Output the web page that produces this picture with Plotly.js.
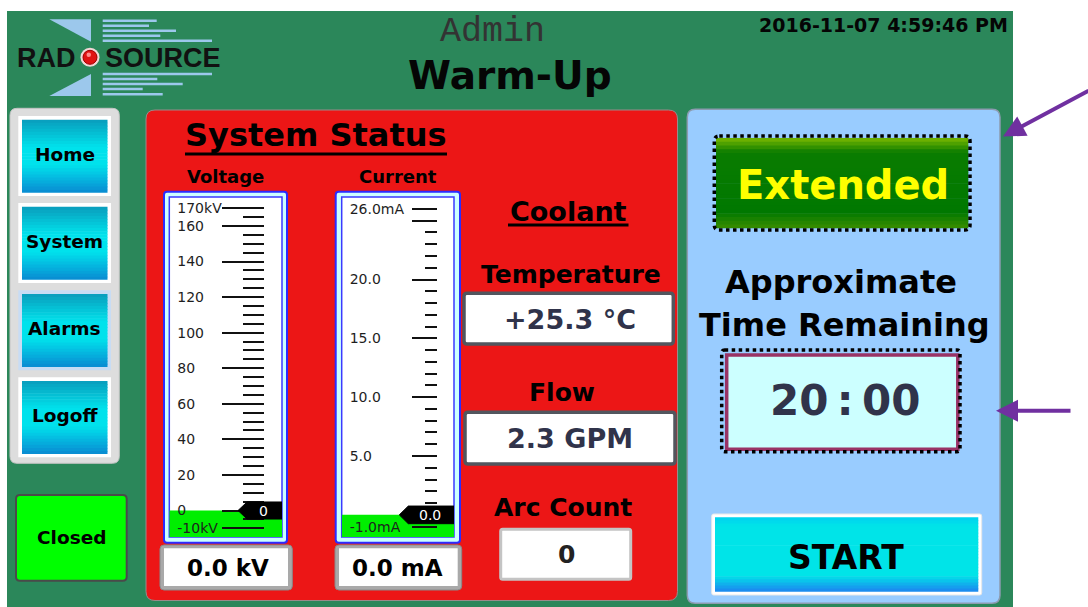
<!DOCTYPE html>
<html><head><meta charset="utf-8">
<script src="https://cdn.plot.ly/plotly-3.0.1.min.js"></script>
<style>html,body{margin:0;padding:0;background:#fff;}#chart{width:1088px;height:607px;}</style>
</head><body><div id="chart"></div>
<script>
// ---------------- data ----------------
const userLevel = 'Admin';
const screenTitle = 'Warm-Up';
const timestamp = '2016-11-07 4:59:46 PM';
const navButtons = ['Home', 'System', 'Alarms', 'Logoff'];
const doorState = 'Closed';
const panelTitle = 'System Status';
const voltageKV = 0.0;
const currentMA = 0.0;
const voltageRange = [-14.9, 176.3];
const voltageMajorTicks = [-10, 0, 20, 40, 60, 80, 100, 120, 140, 160, 170];
const voltageMinorTicks = [-5, 5, 10, 15, 25, 30, 35, 45, 50, 55, 65, 70, 75, 85, 90, 95, 105, 110, 115, 125, 130, 135, 145, 150, 155, 165];
const voltageLabelVals = [-10, 0, 20, 40, 60, 80, 100, 120, 140, 160, 170];
const voltageLabels = ['-10kV', '0', '20', '40', '60', '80', '100', '120', '140', '160', '170kV'];
const currentRange = [-1.88, 27.01];
const currentMajorTicks = [-1, 0, 5, 10, 15, 20, 25, 26];
const currentMinorTicks = [1, 2, 3, 4, 6, 7, 8, 9, 11, 12, 13, 14, 16, 17, 18, 19, 21, 22, 23, 24];
const currentLabelVals = [-1, 5, 10, 15, 20, 26];
const currentLabels = ['-1.0mA', '5.0', '10.0', '15.0', '20.0', '26.0mA'];
const coolantTempC = 25.3;
const coolantFlowGPM = 2.3;
const arcCount = 0;
const warmupMode = 'Extended';
const timeRemaining = '20\u2009:\u200900';

// ---------------- helpers ----------------
const W = 1088, H = 607;
const shapes = [], ann = [];
function rrPath(x0, y0, x1, y1, r) {
  return `M${x0 + r},${y0} L${x1 - r},${y0} Q${x1},${y0} ${x1},${y0 + r} L${x1},${y1 - r} Q${x1},${y1} ${x1 - r},${y1} L${x0 + r},${y1} Q${x0},${y1} ${x0},${y1 - r} L${x0},${y0 + r} Q${x0},${y0} ${x0 + r},${y0} Z`;
}
function box(x0, y0, x1, y1, fill, lc, lw, r, dash) {
  const s = {xref: 'x', yref: 'y', fillcolor: fill || 'rgba(0,0,0,0)', line: {color: lc || 'rgba(0,0,0,0)', width: lw || 0}, layer: 'below'};
  if (dash) s.line.dash = dash;
  if (r) { s.type = 'path'; s.path = rrPath(x0, y0, x1, y1, r); }
  else { s.type = 'rect'; s.x0 = x0; s.x1 = x1; s.y0 = y0; s.y1 = y1; }
  shapes.push(s);
}
function line(x0, y0, x1, y1, c, w) {
  shapes.push({type: 'line', xref: 'x', yref: 'y', x0, y0, x1, y1, line: {color: c, width: w}, layer: 'below'});
}
function hex2rgb(h) { return [parseInt(h.substr(1, 2), 16), parseInt(h.substr(3, 2), 16), parseInt(h.substr(5, 2), 16)]; }
function colAt(stops, t) {
  for (let i = 0; i < stops.length - 1; i++) {
    const a = stops[i], b = stops[i + 1];
    if (t >= a[0] && t <= b[0]) {
      const f = (t - a[0]) / (b[0] - a[0] || 1);
      const ca = hex2rgb(a[1]), cb = hex2rgb(b[1]);
      return `rgb(${ca.map((v, k) => Math.round(v + (cb[k] - v) * f)).join(',')})`;
    }
  }
  return stops[stops.length - 1][1];
}
function grad(x0, y0, x1, y1, stops, n) {
  const h = (y1 - y0) / n;
  for (let i = 0; i < n; i++) {
    const t = (i + 0.5) / n;
    shapes.push({type: 'rect', xref: 'x', yref: 'y', x0, x1, y0: y0 + i * h, y1: Math.min(y1, y0 + (i + 1) * h + 0.6),
      fillcolor: colAt(stops, t), line: {width: 0}, layer: 'below'});
  }
}
function txt(x, y, text, size, o) {
  o = o || {};
  ann.push({xref: 'x', yref: 'y', x, y, text, showarrow: false, xanchor: o.xa || 'center', yanchor: 'middle',
    font: {family: o.family || 'DejaVu Sans', size, color: o.color || '#000', weight: o.weight || 'bold'}});
}

// ---------------- background ----------------
box(7, 11, 1013, 607, '#2b875a');

// logo
const lb = '#9cc8ec';
shapes.push({type: 'path', xref: 'x', yref: 'y', path: 'M49.3,19.3 L91,19.3 L91,41.7 Z', fillcolor: lb, line: {width: 0}, layer: 'below'});
shapes.push({type: 'path', xref: 'x', yref: 'y', path: 'M91,74 L91,96 L49.3,96 Z', fillcolor: lb, line: {width: 0}, layer: 'below'});
[[20.7, 156.7], [25.7, 149], [30.7, 176], [35.7, 160.3], [40.7, 212]].forEach(p => line(102.7, p[0], p[1], p[0], lb, 2.5));
[[74, 212], [79, 157.3], [84, 182.7], [89, 142.7], [94.3, 162.7]].forEach(p => line(102.7, p[0], p[1], p[0], lb, 2.5));
shapes.push({type: 'circle', xref: 'x', yref: 'y', x0: 80.5, x1: 99.5, y0: 47.8, y1: 66.8, fillcolor: '#f3d6d6', line: {width: 0}, layer: 'below'});
shapes.push({type: 'circle', xref: 'x', yref: 'y', x0: 83, x1: 97, y0: 50.3, y1: 64.3, fillcolor: '#e01212', line: {color: '#a00000', width: 1}, layer: 'below'});
shapes.push({type: 'circle', xref: 'x', yref: 'y', x0: 86.5, x1: 91, y0: 52.5, y1: 57, fillcolor: '#ff8a8a', line: {width: 0}, layer: 'below'});
txt(15, 57.5, 'RAD', 27, {xa: 'left', family: 'Liberation Sans', color: '#111'});
txt(103, 57.5, 'SOURCE', 27, {xa: 'left', family: 'Liberation Sans', color: '#111'});

// header texts
txt(492, 31.5, userLevel, 35, {family: 'Liberation Mono', weight: 'normal', color: '#333'});
txt(510, 75, screenTitle, 39, {color: '#050505'});
txt(1010, 24.5, timestamp, 19, {xa: 'right', color: '#050505'});

// nav panel
box(10, 108.3, 119.3, 463.3, '#dddddd', '#c4c4c4', 1, 7);
const btnStops = [[0, '#0a9cbc'], [0.38, '#00e2ec'], [0.62, '#00e2ec'], [1, '#0a8ad2']];
navButtons.forEach((name, i) => {
  const top = 116 + i * 87.1, bot = top + 80;
  box(18.3, top, 111, bot, i === 2 ? '#c8dcf4' : '#ffffff');
  grad(22, top + 3.7, 107.5, bot - 3.3, btnStops, 24);
  txt(64.7, (top + bot) / 2 - 1.5, name, 18.5);
});
box(16, 495, 126.7, 580.7, '#00ff00', '#4a4a4a', 2, 4);
txt(71, 537.5, doorState, 18.5);

// red system status panel
box(146, 110, 677.5, 600.5, '#ec1616', '#9a8a8a', 1, 9);
txt(315.8, 135, panelTitle, 32);
line(185, 154, 447, 154, '#000', 3);
txt(225.5, 176.5, 'Voltage', 18);
txt(398.3, 176.5, 'Current', 18);

// gauge frames
box(164, 191.7, 287, 542.7, '#ccffff', '#2b2bff', 2, 3);
box(169.3, 197, 282, 537, '#ffffff', '#3a3aff', 1.5);
box(335.7, 191.7, 460, 542.7, '#ccffff', '#2b2bff', 2, 3);
box(341.7, 197, 454, 537, '#ffffff', '#3a3aff', 1.5);

// value readouts under gauges
box(160, 545, 292.3, 590, '#a9a9a9', '#8a8a8a', 1, 4);
box(164, 548.3, 288, 586, '#ffffff');
txt(228, 568, voltageKV.toFixed(1) + ' kV', 23);
box(335, 545, 461.7, 590, '#a9a9a9', '#8a8a8a', 1, 4);
box(339, 548.3, 457.7, 586, '#ffffff');
txt(397.2, 568, currentMA.toFixed(1) + ' mA', 23);

// coolant
txt(568.3, 211, 'Coolant', 27);
line(508, 225, 628.5, 225, '#000', 3);
txt(571, 274.5, 'Temperature', 25);
box(464, 293.3, 673.3, 344, '#ffffff', '#52565e', 3.5, 3);
txt(570.3, 319, '+' + coolantTempC.toFixed(1) + ' \u00B0C', 27, {color: '#30334a'});
txt(562, 392.5, 'Flow', 25);
box(465, 412.3, 675, 464, '#ffffff', '#52565e', 3.5, 3);
txt(570.3, 438, coolantFlowGPM.toFixed(1) + ' GPM', 27, {color: '#30334a'});
txt(562.5, 507, 'Arc Count', 25);
box(500.7, 529.3, 630.7, 579.3, '#ffffff', '#c4c4c4', 3, 2);
txt(566, 554.5, String(arcCount), 25, {color: '#222'});

// right panel
box(687.3, 109.3, 1000, 603.3, '#99ccff', '#8c9bb0', 1.5, 8);
grad(716, 138, 968.3, 228.3, [[0, '#7ab800'], [0.16, '#0a7c00'], [0.82, '#007800'], [1, '#3a8e00']], 24);
box(714.3, 136, 970, 230, null, '#000', 3.5, 5, 'dot');
txt(843.3, 185, warmupMode, 40, {color: '#ffff00'});
txt(841, 282, 'Approximate', 32);
txt(844, 324.5, 'Time Remaining', 32);
box(726.7, 355, 957.8, 449.3, '#ccffff', '#993366', 3.5);
box(721.7, 350, 960, 451.7, null, '#000', 3.5, 3, 'dot');
txt(844.7, 400.5, timeRemaining, 42, {color: '#30334a'});
box(711.7, 514, 981.7, 595, '#ffffff', '#e8e8e8', 1, 2);
grad(715, 517.3, 978.3, 591.7, [[0, '#00d2f0'], [0.12, '#00e4e8'], [0.78, '#00e4e8'], [1, '#1e84f0']], 24);
txt(846.3, 557, 'START', 33);

// annotation arrows
ann.push({xref: 'x', yref: 'y', axref: 'x', ayref: 'y', x: 1003, y: 136.5, ax: 1090, ay: 90, text: '', showarrow: true,
  arrowhead: 2, arrowsize: 1.1, arrowwidth: 4, arrowcolor: '#7030a0', standoff: 0});
ann.push({xref: 'x', yref: 'y', axref: 'x', ayref: 'y', x: 996, y: 410.7, ax: 1072, ay: 410.7, text: '', showarrow: true,
  arrowhead: 2, arrowsize: 1.1, arrowwidth: 4, arrowcolor: '#7030a0', standoff: 0});

// ---------------- gauges (drawn through axes) ----------------
const fx = v => v / W;
const gDomY = [1 - 537 / H, 1 - 197 / H];
const vDomX = [fx(169.3), fx(282)];
const cDomX = [fx(341.7), fx(454)];
const tickFont = {family: 'DejaVu Sans', size: 14, color: '#1e1e1e'};
function labelAxis(anchor, range, vals, text) {
  return {domain: gDomY, anchor, range, side: 'left', tickmode: 'array', tickvals: vals, ticktext: text, ticks: '',
    ticklabelposition: 'inside', ticklabelstandoff: 5, tickfont: tickFont, showgrid: false, zeroline: false, showline: false, fixedrange: true};
}
function tickAxis(over, pos, range, vals, len) {
  return {overlaying: over, anchor: 'free', position: pos, side: 'right', range, tickmode: 'array', tickvals: vals,
    ticks: 'inside', ticklen: len, tickwidth: 2, tickcolor: '#111', showticklabels: false, showgrid: false, zeroline: false, showline: false, fixedrange: true};
}
const hidX = d => ({domain: d, range: [0, 1], visible: false, fixedrange: true});
function pointer(v, half, tipX, shX) {
  return {x: [tipX, shX, 1, 1, shX, tipX], y: [v, v + half, v + half, v - half, v - half, v]};
}
const vp = pointer(voltageKV, 4.8, 0.61, 0.69);
const cp = pointer(currentMA, 0.75, 0.513, 0.593);

const traces = [
  {type: 'bar', x: [0.5], y: [voltageKV - voltageRange[0]], base: [voltageRange[0]], width: [1], xaxis: 'x2', yaxis: 'y2',
    marker: {color: '#00ee00', line: {width: 0}}, hoverinfo: 'skip'},
  {type: 'scatter', x: [null], y: [null], xaxis: 'x2', yaxis: 'y3', hoverinfo: 'skip'},
  {type: 'scatter', x: [null], y: [null], xaxis: 'x2', yaxis: 'y4', hoverinfo: 'skip'},
  {type: 'bar', x: [0.5], y: [currentMA - currentRange[0]], base: [currentRange[0]], width: [1], xaxis: 'x3', yaxis: 'y5',
    marker: {color: '#00ee00', line: {width: 0}}, hoverinfo: 'skip'},
  {type: 'scatter', x: [null], y: [null], xaxis: 'x3', yaxis: 'y6', hoverinfo: 'skip'},
  {type: 'scatter', x: [null], y: [null], xaxis: 'x3', yaxis: 'y7', hoverinfo: 'skip'},
  {type: 'scatter', mode: 'lines', x: vp.x, y: vp.y, fill: 'toself', fillcolor: '#000', line: {color: '#000', width: 1},
    xaxis: 'x4', yaxis: 'y8', hoverinfo: 'skip'},
  {type: 'scatter', mode: 'lines', x: cp.x, y: cp.y, fill: 'toself', fillcolor: '#000', line: {color: '#000', width: 1},
    xaxis: 'x5', yaxis: 'y9', hoverinfo: 'skip'}
];

ann.push({xref: 'x4', yref: 'y8', x: 0.84, y: voltageKV, text: voltageKV.toFixed(0), showarrow: false,
  font: {family: 'DejaVu Sans', size: 14, color: '#fff'}});
ann.push({xref: 'x5', yref: 'y9', x: 0.79, y: currentMA, text: currentMA.toFixed(1), showarrow: false,
  font: {family: 'DejaVu Sans', size: 14, color: '#fff'}});

const layout = {
  width: W, height: H, margin: {l: 0, r: 0, t: 0, b: 0}, paper_bgcolor: '#ffffff', plot_bgcolor: 'rgba(0,0,0,0)',
  showlegend: false, dragmode: false,
  xaxis: {domain: [0, 1], range: [0, W], visible: false, fixedrange: true},
  yaxis: {domain: [0, 1], range: [H, 0], visible: false, fixedrange: true},
  xaxis2: Object.assign(hidX(vDomX), {anchor: 'y2'}),
  yaxis2: labelAxis('x2', voltageRange, voltageLabelVals, voltageLabels),
  yaxis3: tickAxis('y2', fx(264.3), voltageRange, voltageMajorTicks, 42),
  yaxis4: tickAxis('y2', fx(264.3), voltageRange, voltageMinorTicks, 21),
  xaxis3: Object.assign(hidX(cDomX), {anchor: 'y5'}),
  yaxis5: labelAxis('x3', currentRange, currentLabelVals, currentLabels),
  yaxis6: tickAxis('y5', fx(436.7), currentRange, currentMajorTicks, 24.5),
  yaxis7: tickAxis('y5', fx(436.7), currentRange, currentMinorTicks, 11.7),
  xaxis4: Object.assign(hidX(vDomX), {anchor: 'y8'}),
  yaxis8: {domain: gDomY, range: voltageRange, visible: false, anchor: 'x4', fixedrange: true},
  xaxis5: Object.assign(hidX(cDomX), {anchor: 'y9'}),
  yaxis9: {domain: gDomY, range: currentRange, visible: false, anchor: 'x5', fixedrange: true},
  shapes, annotations: ann
};
traces.unshift({type: 'scatter', x: [null], y: [null], xaxis: 'x', yaxis: 'y', hoverinfo: 'skip'});
Plotly.newPlot('chart', traces, layout, {staticPlot: true, displayModeBar: false});
</script></body></html>
